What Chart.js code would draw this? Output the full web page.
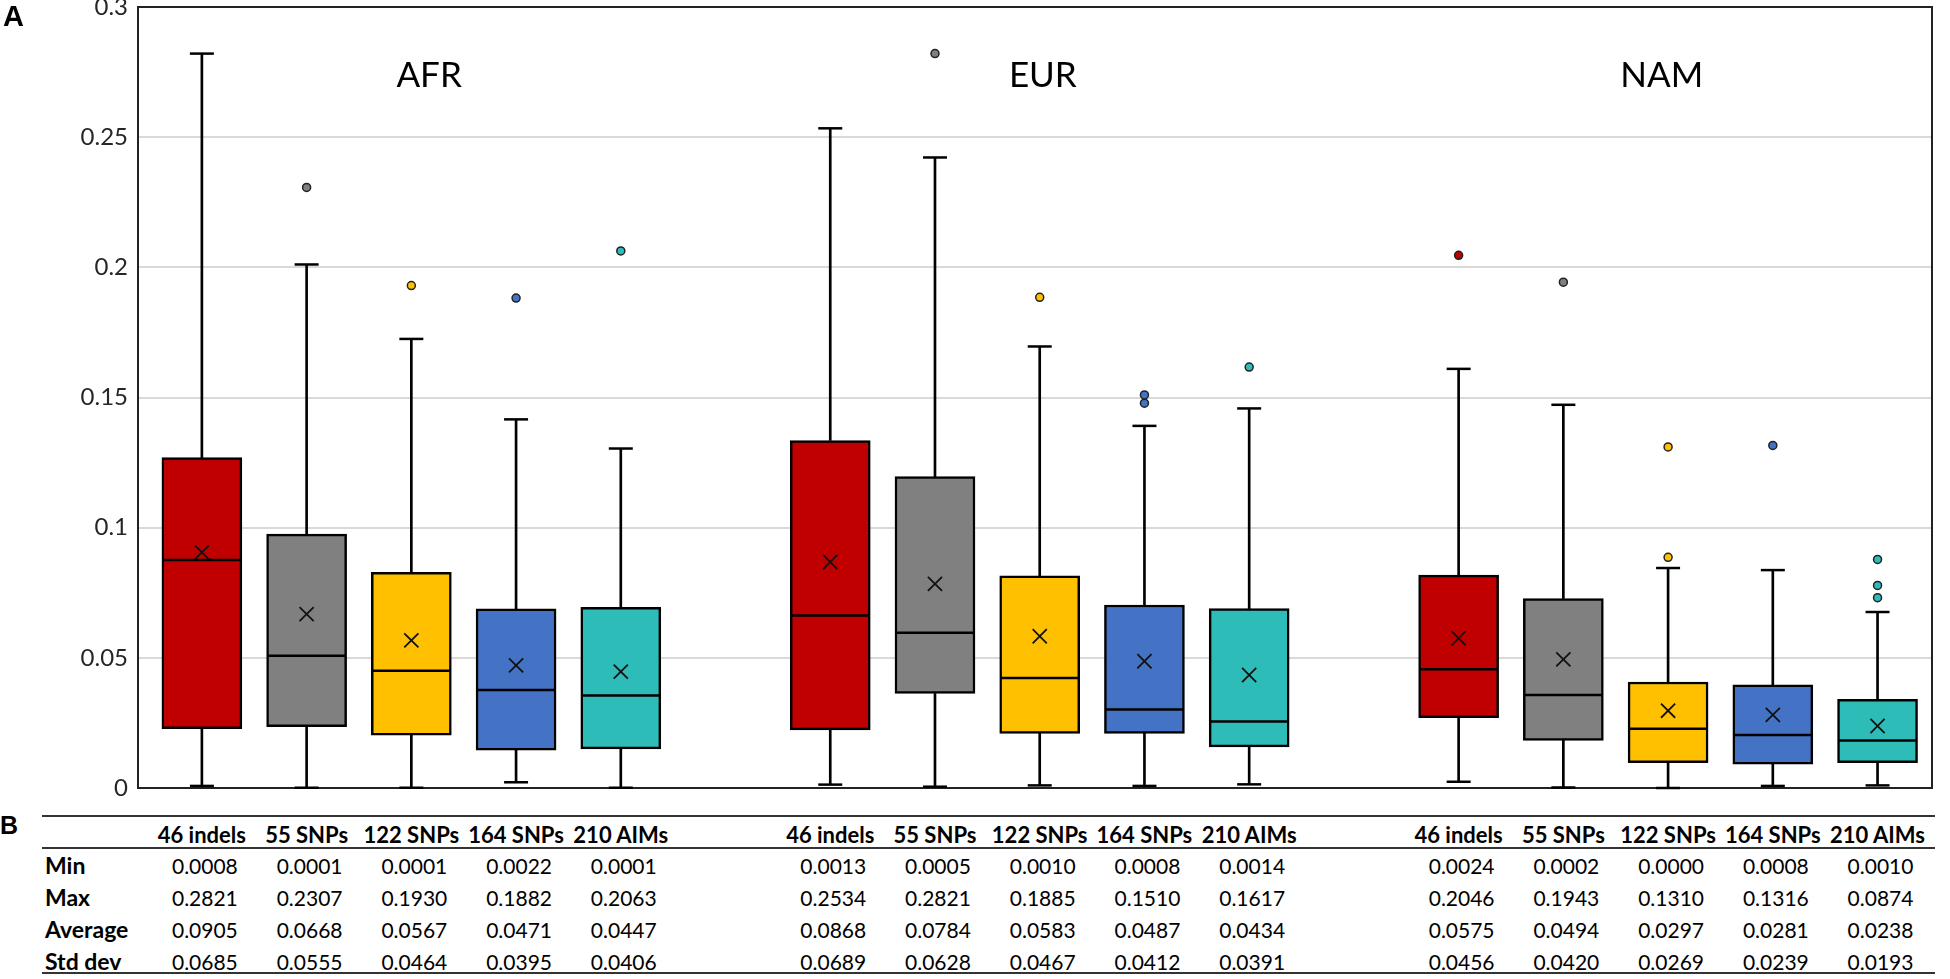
<!DOCTYPE html>
<html>
<head>
<meta charset="utf-8">
<script src="https://cdn.jsdelivr.net/npm/chart.js@4.4.1/dist/chart.umd.min.js"></script>
<style>
html,body{margin:0;padding:0;background:#fff;width:1950px;height:979px;overflow:hidden;}
#wrap{position:absolute;left:0;top:0;width:1950px;height:800px;}
.t{position:absolute;white-space:nowrap;font-family:Lato,'Open Sans',sans-serif;color:#000;line-height:1;}
.c{transform:translate(-50%,-50%);}
.l{transform:translate(0,-50%);}
.v{font-size:21px;}
.h{font-size:22px;font-weight:bold;}
.r{font-size:23px;font-weight:bold;}
.g{font-size:35px;}
.pa{font-family:'Liberation Sans',Arial,sans-serif;font-weight:bold;font-size:29px;}
.pb{font-family:'Liberation Sans',Arial,sans-serif;font-weight:bold;font-size:25px;}
.rule{position:absolute;height:2px;background:#333;}
</style>
</head>
<body>
<div id="wrap"><canvas id="c"></canvas></div>
<div id="over"></div>
<script>
// ---- data ----
const groups = ['AFR', 'EUR', 'NAM'];
const markerSets = ['46 indels', '55 SNPs', '122 SNPs', '164 SNPs', '210 AIMs'];
const rowLabels = ['Min', 'Max', 'Average', 'Std dev'];
const boxColors = ['#C00000', '#808080', '#FFC000', '#4472C4', '#2EBCB8'];

// order: AFR x5, EUR x5, NAM x5
const minVals = [0.0008, 0.0001, 0.0001, 0.0022, 0.0001, 0.0013, 0.0005, 0.0010, 0.0008, 0.0014, 0.0024, 0.0002, 0.0000, 0.0008, 0.0010];
const maxVals = [0.2821, 0.2307, 0.1930, 0.1882, 0.2063, 0.2534, 0.2821, 0.1885, 0.1510, 0.1617, 0.2046, 0.1943, 0.1310, 0.1316, 0.0874];
const avgVals = [0.0905, 0.0668, 0.0567, 0.0471, 0.0447, 0.0868, 0.0784, 0.0583, 0.0487, 0.0434, 0.0575, 0.0494, 0.0297, 0.0281, 0.0238];
const sdVals  = [0.0685, 0.0555, 0.0464, 0.0395, 0.0406, 0.0689, 0.0628, 0.0467, 0.0412, 0.0391, 0.0456, 0.0420, 0.0269, 0.0239, 0.0193];

const q1Vals      = [0.0228, 0.0236, 0.0203, 0.0145, 0.0150, 0.0223, 0.0363, 0.0210, 0.0210, 0.0158, 0.0270, 0.0183, 0.0097, 0.0092, 0.0097];
const medianVals  = [0.0876, 0.0508, 0.0450, 0.0376, 0.0355, 0.0663, 0.0596, 0.0423, 0.0302, 0.0255, 0.0456, 0.0357, 0.0228, 0.0204, 0.0182];
const q3Vals      = [0.1269, 0.0975, 0.0828, 0.0688, 0.0694, 0.1335, 0.1196, 0.0815, 0.0703, 0.0689, 0.0818, 0.0728, 0.0407, 0.0396, 0.0341];
const whiskerHigh = [0.2821, 0.2011, 0.1725, 0.1416, 0.1304, 0.2534, 0.2422, 0.1696, 0.1391, 0.1458, 0.1610, 0.1472, 0.0845, 0.0837, 0.0676];

const outlierBox  = [1, 2, 3, 4, 6, 7, 8, 8, 9, 10, 11, 12, 12, 13, 14, 14, 14];
const outlierVals = [0.2307, 0.1930, 0.1882, 0.2063, 0.2821, 0.1885, 0.1510, 0.1478, 0.1617, 0.2046, 0.1943, 0.1310, 0.0886, 0.1316, 0.0878, 0.0778, 0.0731];

const yMin = 0, yMax = 0.3, yStep = 0.05;

// ---- helpers ----
const pos = i => Math.floor(i / 5) * 6 + (i % 5);
const idx = [...Array(15).keys()];

const framePlugin = {
  id: 'frame',
  beforeDatasetsDraw(c) {
    const { ctx, chartArea: a } = c;
    ctx.save();
    ctx.strokeStyle = '#222';
    ctx.lineWidth = 2;
    ctx.strokeRect(a.left, a.top, a.right - a.left, a.bottom - a.top);
    ctx.restore();
  }
};

const chart = new Chart(document.getElementById('c'), {
  type: 'bar',
  data: {
    datasets: [
      { type: 'scatter', order: 0, clip: false,
        data: outlierVals.map((v, j) => ({ x: pos(outlierBox[j]), y: v })),
        pointStyle: 'circle', pointRadius: 4,
        pointBackgroundColor: outlierBox.map(b => boxColors[b % 5]),
        pointBorderColor: '#222', pointBorderWidth: 1.5 },
      { type: 'scatter', order: 1, clip: false,
        data: idx.map(i => ({ x: pos(i), y: avgVals[i] })),
        pointStyle: 'crossRot', pointRadius: 10,
        pointBorderColor: '#111', pointBorderWidth: 1.8 },
      { type: 'scatter', order: 2, clip: false,
        data: idx.map(i => ({ x: pos(i), y: medianVals[i] })),
        pointStyle: 'line', pointRadius: 39,
        pointBorderColor: '#000', pointBorderWidth: 2.5 },
      { type: 'scatter', order: 3, clip: false,
        data: [...idx.map(i => ({ x: pos(i), y: minVals[i] })), ...idx.map(i => ({ x: pos(i), y: whiskerHigh[i] }))],
        pointStyle: 'line', pointRadius: 12,
        pointBorderColor: '#000', pointBorderWidth: 2.5 },
      { type: 'bar', order: 4, clip: false, grouped: false,
        data: idx.map(i => ({ x: pos(i), y: [q1Vals[i], q3Vals[i]] })),
        backgroundColor: idx.map(i => boxColors[i % 5]),
        borderColor: '#000', borderWidth: 2.5, borderSkipped: false, barThickness: 80 },
      { type: 'bar', order: 5, clip: false, grouped: false,
        data: [...idx.map(i => ({ x: pos(i), y: [minVals[i], q1Vals[i]] })), ...idx.map(i => ({ x: pos(i), y: [q3Vals[i], whiskerHigh[i]] }))],
        backgroundColor: '#000', borderWidth: 0, barThickness: 2 }
    ]
  },
  options: {
    responsive: true,
    maintainAspectRatio: false,
    animation: false,
    events: [],
    layout: { autoPadding: false, padding: { top: 7, right: 18, bottom: 12, left: 0 } },
    plugins: { legend: { display: false }, tooltip: { enabled: false } },
    scales: {
      x: { type: 'linear', min: -0.61, max: 16.52, offset: false, display: false },
      y: {
        min: yMin, max: yMax,
        afterFit(s) { s.width = 138; s.paddingTop = 0; s.paddingBottom = 0; },
        ticks: { stepSize: yStep, padding: 10, color: '#262626',
                 font: { family: 'Lato', size: 24 },
                 callback: v => String(+Number(v).toFixed(2)) },
        grid: { color: '#d9d9d9', lineWidth: 2, drawTicks: false },
        border: { display: false }
      }
    }
  },
  plugins: [framePlugin]
});

// ---- overlay text: panel letters, group labels, table ----
const over = document.getElementById('over');
const xs = chart.scales.x, ys = chart.scales.y;
function addText(txt, cls, left, top) {
  const d = document.createElement('div');
  d.className = 't ' + cls;
  d.textContent = txt;
  d.style.left = left + 'px';
  d.style.top = top + 'px';
  over.appendChild(d);
}
function addRule(top, left, right) {
  const d = document.createElement('div');
  d.className = 'rule';
  d.style.top = (top - 1) + 'px';
  d.style.left = left + 'px';
  d.style.width = (right - left) + 'px';
  over.appendChild(d);
}

addText('A', 'pa l', 3, 16);
addText('B', 'pb l', 0, 825);

const groupLabelShift = [0.17, 0.03, -0.06];
groups.forEach((g, gi) => {
  addText(g, 'g c', xs.getPixelForValue(pos(gi * 5 + 2) + groupLabelShift[gi]), ys.getPixelForValue(0.2747));
});

const tableLeft = 42, tableRight = 1935;
const headerY = 835, rowY = [865, 897, 929, 961];
addRule(816, tableLeft, tableRight);
addRule(848, tableLeft, tableRight);
addRule(973, tableLeft, tableRight);

idx.forEach(i => {
  addText(markerSets[i % 5], 'h c', xs.getPixelForValue(pos(i)), headerY);
});
const tableVals = [minVals, maxVals, avgVals, sdVals];
rowLabels.forEach((r, ri) => {
  addText(r, 'r l', 45, rowY[ri]);
  idx.forEach(i => {
    addText(tableVals[ri][i].toFixed(4), 'v c', xs.getPixelForValue(pos(i)) + 3, rowY[ri]);
  });
});
</script>
</body>
</html>
